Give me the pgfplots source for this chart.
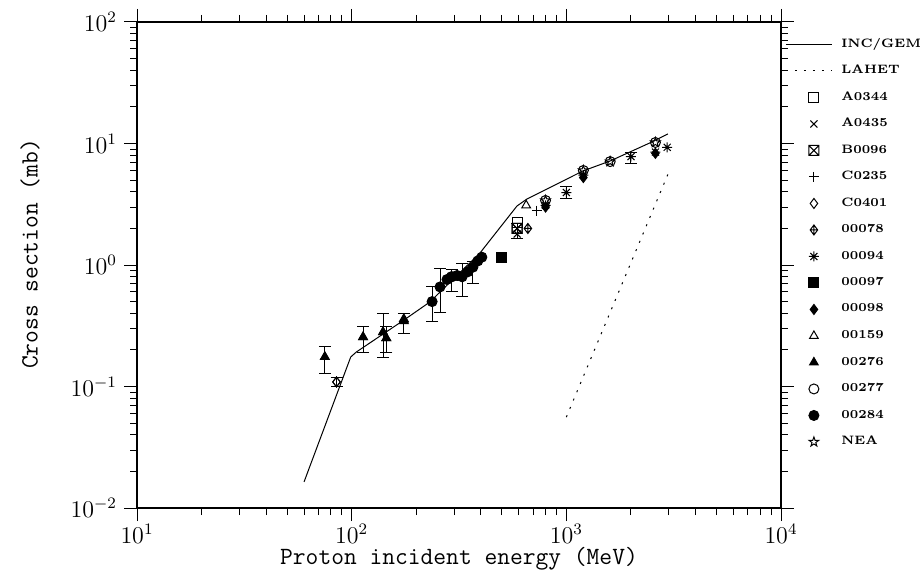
\documentclass[border=0pt]{standalone}
\usepackage{pgfplots}
\pgfplotsset{compat=1.18}
\usetikzlibrary{calc,plotmarks}

\pgfdeclareplotmark{boxx}{%
 \pgfpathrectangle{\pgfqpoint{-\pgfplotmarksize}{-\pgfplotmarksize}}{\pgfqpoint{2\pgfplotmarksize}{2\pgfplotmarksize}}%
 \pgfpathmoveto{\pgfqpoint{-\pgfplotmarksize}{-\pgfplotmarksize}}\pgfpathlineto{\pgfqpoint{\pgfplotmarksize}{\pgfplotmarksize}}%
 \pgfpathmoveto{\pgfqpoint{-\pgfplotmarksize}{\pgfplotmarksize}}\pgfpathlineto{\pgfqpoint{\pgfplotmarksize}{-\pgfplotmarksize}}%
 \pgfusepathqstroke}
\pgfdeclareplotmark{diamondplus}{%
 \pgfpathmoveto{\pgfqpoint{0pt}{\pgfplotmarksize}}\pgfpathlineto{\pgfqpoint{.75\pgfplotmarksize}{0pt}}%
 \pgfpathlineto{\pgfqpoint{0pt}{-\pgfplotmarksize}}\pgfpathlineto{\pgfqpoint{-.75\pgfplotmarksize}{0pt}}\pgfpathclose
 \pgfpathmoveto{\pgfqpoint{0pt}{\pgfplotmarksize}}\pgfpathlineto{\pgfqpoint{0pt}{-\pgfplotmarksize}}%
 \pgfpathmoveto{\pgfqpoint{-.75\pgfplotmarksize}{0pt}}\pgfpathlineto{\pgfqpoint{.75\pgfplotmarksize}{0pt}}%
 \pgfusepathqstroke}
\pgfdeclareplotmark{ast8}{%
 \pgfpathmoveto{\pgfqpoint{0pt}{\pgfplotmarksize}}\pgfpathlineto{\pgfqpoint{0pt}{-\pgfplotmarksize}}%
 \pgfpathmoveto{\pgfqpoint{\pgfplotmarksize}{0pt}}\pgfpathlineto{\pgfqpoint{-\pgfplotmarksize}{0pt}}%
 \pgfpathmoveto{\pgfqpoint{.7\pgfplotmarksize}{.7\pgfplotmarksize}}\pgfpathlineto{\pgfqpoint{-.7\pgfplotmarksize}{-.7\pgfplotmarksize}}%
 \pgfpathmoveto{\pgfqpoint{-.7\pgfplotmarksize}{.7\pgfplotmarksize}}\pgfpathlineto{\pgfqpoint{.7\pgfplotmarksize}{-.7\pgfplotmarksize}}%
 \pgfusepathqstroke}
\pgfdeclareplotmark{ostar}{%
 \pgfpathmoveto{\pgfpointpolar{90}{\pgfplotmarksize}}%
 \pgfpathlineto{\pgfpointpolar{126}{0.4\pgfplotmarksize}}%
 \pgfpathlineto{\pgfpointpolar{162}{\pgfplotmarksize}}%
 \pgfpathlineto{\pgfpointpolar{198}{0.4\pgfplotmarksize}}%
 \pgfpathlineto{\pgfpointpolar{234}{\pgfplotmarksize}}%
 \pgfpathlineto{\pgfpointpolar{270}{0.4\pgfplotmarksize}}%
 \pgfpathlineto{\pgfpointpolar{306}{\pgfplotmarksize}}%
 \pgfpathlineto{\pgfpointpolar{342}{0.4\pgfplotmarksize}}%
 \pgfpathlineto{\pgfpointpolar{18}{\pgfplotmarksize}}%
 \pgfpathlineto{\pgfpointpolar{54}{0.4\pgfplotmarksize}}%
 \pgfpathclose\pgfusepathqstroke}

\pgfplotsset{
  linelegend/.style={legend image code/.code={\draw[##1] (0pt,0pt) -- (23pt,0pt);}},
  marklegend/.style={legend image code/.code={\draw[##1] plot[only marks] coordinates {(14pt,0pt)};}},
}

\begin{document}
\begin{tikzpicture}
\begin{axis}[
  scale only axis, width=322pt, height=243pt,
  xmode=log, ymode=log,
  xmin=10, xmax=10000, ymin=0.01, ymax=100,
  xtick={10,100,1000,10000}, ytick={0.01,0.1,1,10,100},
  tick align=outside, major tick length=6.5pt, minor tick length=3.5pt,
  every tick/.style={black, line width=0.5pt},
  axis line style={line width=0.6pt},
  tick label style={font=\fontsize{12}{14}\selectfont},
  xticklabel style={inner ysep=1.5pt},
  xlabel={Proton incident energy (MeV)},
  ylabel={Cross section (mb)},
  every axis x label/.style={at={([yshift=-25.5pt]axis description cs:0.5,0)}, anchor=center, inner sep=0pt, font=\fontsize{12.4}{14}\selectfont\ttfamily},
  every axis y label/.style={at={([xshift=-53.5pt,yshift=5.5pt]axis description cs:0,0.5)}, anchor=center, rotate=90, inner sep=0pt, font=\fontsize{12.4}{14}\selectfont\ttfamily},
  every axis plot/.append style={black, line width=0.5pt, mark size=2.5pt},
  error bars/error bar style={line width=0.5pt},
  error bars/error mark options={rotate=90, mark size=3pt, line width=0.5pt},
  marklegend,
  legend style={at={(axis description cs:1,1)}, anchor=north west, xshift=2pt, yshift=-4.4pt,
    draw=none, fill=none, inner sep=0pt, row sep=0pt,
    font=\fontsize{6.1}{7.5}\selectfont\bfseries,
    nodes={inner sep=0pt, anchor=west, minimum height=13.25pt},
    /tikz/every odd column/.append style={column sep=4.5pt}},
  legend cell align=left,
]
\addplot[solid, mark=none, linelegend] coordinates {(60,0.0164)(99,0.175)(105,0.192)(175,0.352)(231,0.495)(396,1.255)(589,3.06)(655,3.49)(1194,5.94)(1596,7.17)(2506,10.3)(2972,12.0)};
\addlegendentry{INC/GEM}
\addplot[dash pattern=on 1pt off 3.5pt, mark=none, linelegend] coordinates {(1000,0.056)(3000,5.8)};
\addlegendentry{LAHET}
\addplot[only marks, mark=square] coordinates {(590,2.25)};
\addlegendentry{A0344}
\addplot[only marks, mark=x] coordinates {(590,1.8)};
\addlegendentry{A0435}
\addplot[only marks, mark=boxx] coordinates {(590,2.0)};
\addlegendentry{B0096}
\addplot[only marks, mark=boxx, forget plot, error bars/.cd, y dir=both, y explicit] coordinates {(590,2.0) += (0,0.2) -= (0,0.35)};
\addplot[only marks, mark=+] coordinates {(730,2.8)};
\addlegendentry{C0235}
\addplot[only marks, mark=diamond] coordinates {(85,0.109)};
\addlegendentry{C0401}
\addplot[only marks, mark=diamond, forget plot, error bars/.cd, y dir=both, y explicit] coordinates {(85,0.109) += (0,0.009) -= (0,0.009)};
\addplot[only marks, mark=diamondplus] coordinates {(662,2.0)};
\addlegendentry{00078}
\addplot[only marks, mark=ast8] coordinates {(800,3.1)(1200,5.5)(2600,8.5)(2950,9.3)};
\addlegendentry{00094}
\addplot[only marks, mark=ast8, forget plot, error bars/.cd, y dir=both, y explicit] coordinates {(1000,3.95) += (0,0.45) -= (0,0.45) (2000,7.8) += (0,0.7) -= (0,0.9)};
\addplot[only marks, mark=square*] coordinates {(500,1.15)};
\addlegendentry{00097}
\addplot[only marks, mark=diamond*] coordinates {(800,3.0)(1200,5.25)(2600,8.3)};
\addlegendentry{00098}
\addplot[only marks, mark=triangle] coordinates {(650,3.1)};
\addlegendentry{00159}
\addplot[only marks, mark=triangle*, mark options={fill=black}] coordinates {(75,0.175)(113,0.255)(140,0.28)(145,0.25)(175,0.36)(175,0.345)};
\addlegendentry{00276}
\addplot[only marks, mark=triangle*, mark options={fill=black}, forget plot, error bars/.cd, y dir=both, y explicit] coordinates {(75,0.175) += (0,0.04) -= (0,0.046) (113,0.255) += (0,0.054) -= (0,0.066) (140,0.28) += (0,0.12) -= (0,0.108) (145,0.25) += (0,0.06) -= (0,0.06) (175,0.35) += (0,0.05) -= (0,0.075)};
\addplot[only marks, mark=o] coordinates {(800,3.4)(1200,6.0)(1600,7.1)(2600,10.2)};
\addlegendentry{00277}
\addplot[only marks, mark=*] coordinates {(278,0.76)(292,0.80)(310,0.82)(348,0.88)(387,1.08)(404,1.16)};
\addlegendentry{00284}
\addplot[only marks, mark=*, forget plot, error bars/.cd, y dir=both, y explicit] coordinates {(237,0.50) += (0,0.16) -= (0,0.16) (258,0.66) += (0,0.27) -= (0,0.25) (292,0.80) += (0,0.12) -= (0,0.2) (327,0.80) += (0,0.23) -= (0,0.25) (367,0.96) += (0,0.1) -= (0,0.25)};
\addplot[only marks, mark=ostar] coordinates {(800,3.4)(1200,6.0)(1600,7.1)(2600,10.2)};
\addlegendentry{NEA}
\end{axis}
\pgfresetboundingbox
\path ($(current axis.south west)+(-68.5pt,-34pt)$) rectangle ($(current axis.north east)+(69.5pt,11pt)$);
\end{tikzpicture}
\end{document}
